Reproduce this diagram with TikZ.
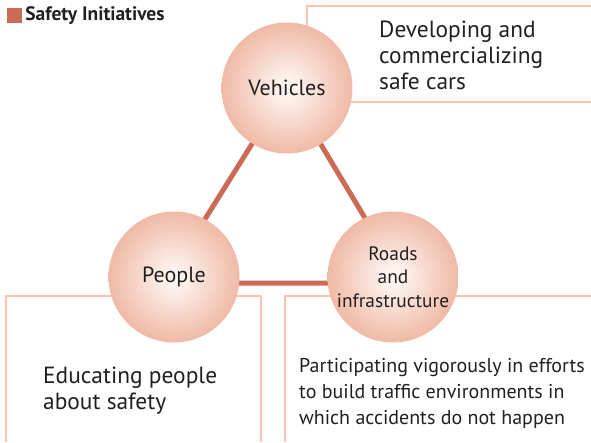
\documentclass[tikz,border=0pt]{standalone}
\usepackage{fontspec}
\setmainfont{PT Sans}
\usetikzlibrary{positioning,backgrounds}
\definecolor{ballin}{HTML}{FEF4EF}
\definecolor{ballmid}{HTML}{EEB49F}
\definecolor{ballout}{HTML}{E38F77}
\definecolor{linkred}{HTML}{CD6A55}
\definecolor{framepink}{HTML}{FCC3AE}
\definecolor{ink}{HTML}{231F20}
\pgfdeclareradialshading{salmonball}{\pgfpoint{0bp}{0bp}}{color(0bp)=(ballin); color(3bp)=(ballin); color(27bp)=(ballmid); color(50bp)=(ballout)}
\begin{document}
\begin{tikzpicture}[x=1pt, y=-1pt, text=ink,
	ball/.style={circle, minimum size=131pt, inner sep=0, shading=salmonball, align=center, font=\fontsize{22}{23.5}\selectfont},
	blurb/.style={anchor=north west, inner sep=0, align=left, font=\fontsize{23.4}{26}\selectfont},
	frame/.style={draw=framepink, line width=2pt},
	link/.style={draw=linkred, line width=5pt}]
		\useasboundingbox (0,0) rectangle (591,442);
		% title
		\node [fill=linkred, minimum size=15pt, inner sep=0] (mark) at (14.5,15.5) {};
		\node [right=3pt of mark, inner sep=0, font=\fontsize{19.5}{20}\bfseries] (title) {Safety Initiatives};
		% the three circles
		\node [ball] (veh) at (287,88) {Vehicles};
		\node [ball] (peo) at (174,277) {People};
		\node [ball, font=\fontsize{19.4}{23.5}\selectfont] (road) at (393,277) {Roads\\and\\infrastructure};
		\coordinate (peo-v) at ([shift={(-9,6)}]peo.center);
		\coordinate (road-v) at ([shift={(11,6)}]road.center);
		% texts
		\node [blurb] (cars) at (379,20.3) {Developing and\\commercializing\\safe cars};
		\node [blurb] (educ) at (43,366.3) {Educating people\\about safety};
		\node [blurb, font=\fontsize{20}{26}\selectfont] (envi) at (299,358) {Participating vigorously in efforts\\to build traffic environments in\\which accidents do not happen};
		\begin{scope}[on background layer]
			\draw[frame] (591,6) -- (307,6) -- (307,102) -- (591,102);
			\draw[frame] (6,442) -- (6,296) -- (261,296) -- (261,442);
			\draw[frame] (285,442) -- (285,296) -- (591,296);
			\draw[link] (veh.center) -- (peo-v) -- (road-v) -- cycle;
		\end{scope}
	\end{tikzpicture}
\end{document}
